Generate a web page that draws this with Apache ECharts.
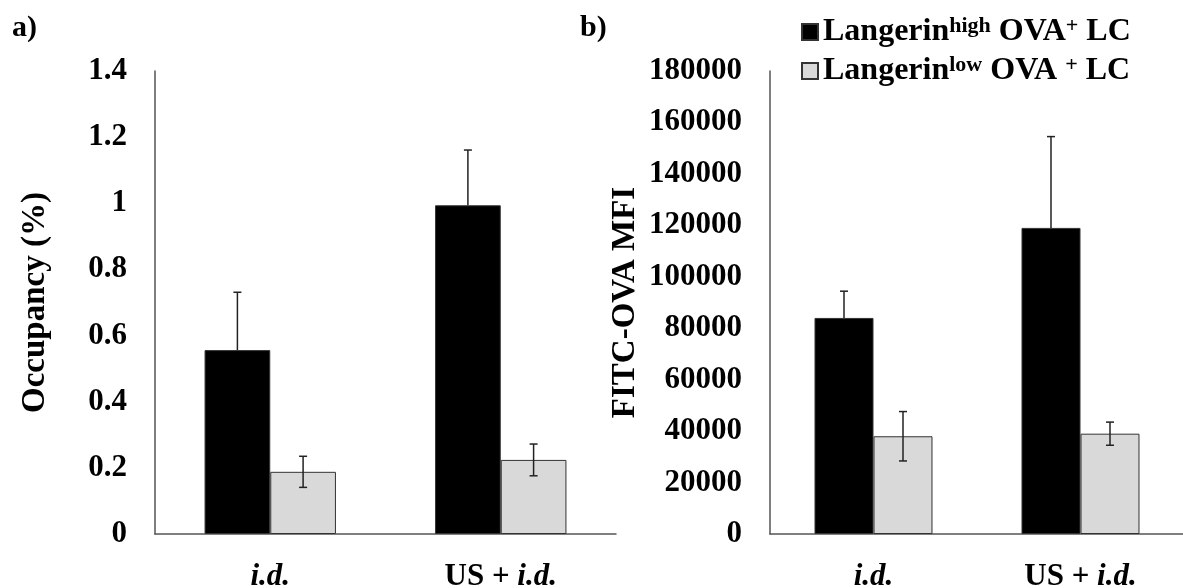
<!DOCTYPE html>
<html>
<head>
<meta charset="utf-8">
<script src="https://cdn.jsdelivr.net/npm/echarts@6/dist/echarts.min.js"></script>
<style>
  html, body { margin: 0; padding: 0; background: #fff; }
  #chart { width: 1183px; height: 588px; }
</style>
</head>
<body>
<div id="chart"></div>
<script>
// Groups on the x axis
const categories = ['i.d.', 'US + i.d.'];

// Panel a: occupancy (%)
const occHigh = [0.556, 0.994];
const occHighErr = [0.175, 0.167];
const occLow = [0.188, 0.224];
const occLowErr = [0.047, 0.048];

// Panel b: FITC-OVA MFI
const mfiHigh = [84000, 119000];
const mfiHighErr = [10400, 35500];
const mfiLow = [38000, 39000];
const mfiLowErr = [9600, 4500];

const seriesNames = ['high', 'low'];
const FONT = '"Liberation Serif", "Times New Roman", serif';
const BAR_GAP_RATIO = 0.43;

const chart = echarts.init(document.getElementById('chart'));

function catLabel(v) {
  return v === 'US + i.d.' ? '{n|US + }{i|i.d.}' : '{i|i.d.}';
}

const xRich = {
  n: { fontFamily: FONT, fontWeight: 'bold', fontSize: 31, color: '#000' },
  i: { fontFamily: FONT, fontWeight: 'bold', fontStyle: 'italic', fontSize: 31, color: '#000' }
};

function xAxisFor(gridIndex) {
  return {
    type: 'category', gridIndex, data: categories,
    axisLine: { lineStyle: { color: '#555', width: 1.5 } },
    axisTick: { show: false },
    axisLabel: { formatter: catLabel, rich: xRich, margin: 27 }
  };
}

function yAxisFor(gridIndex, max, interval, name, nameGap) {
  return {
    type: 'value', gridIndex, min: 0, max, interval,
    name, nameLocation: 'middle', nameGap, nameRotate: 90,
    nameTextStyle: { fontFamily: FONT, fontWeight: 'bold', fontSize: 33, color: '#000' },
    axisLine: { show: true, lineStyle: { color: '#555', width: 1.5 } },
    axisTick: { show: false },
    splitLine: { show: false },
    axisLabel: {
      fontFamily: FONT, fontWeight: 'bold', fontSize: 31, color: '#000', margin: 28,
      formatter: v => String(+v.toFixed(2))
    }
  };
}

// Error bars centred on each bar of a two-bar group; the dark bars get only the upper half
function errorSeries(axisIdx, values, errs, slot) {
  return {
    type: 'custom', xAxisIndex: axisIdx, yAxisIndex: axisIdx, z: 5,
    silent: true,
    data: values.map((v, i) => [i, v, errs[i]]),
    encode: { x: 0, y: 1 },
    renderItem: function (params, api) {
      const ci = api.value(0), v = api.value(1), e = api.value(2);
      const band = api.size([1, 0])[0];
      const bw = band * (1 - BAR_GAP_RATIO) / 2;
      const center = api.coord([ci, v]);
      const x = center[0] + (slot === 0 ? -bw / 2 : bw / 2);
      const top = api.coord([ci, v + e])[1];
      const bot = slot === 0 ? center[1] : api.coord([ci, v - e])[1];
      const cap = 4;
      const style = { stroke: '#222', lineWidth: 1.5 };
      const children = [
        { type: 'line', shape: { x1: x, y1: top, x2: x, y2: bot }, style },
        { type: 'line', shape: { x1: x - cap, y1: top, x2: x + cap, y2: top }, style }
      ];
      if (slot !== 0) {
        children.push({ type: 'line', shape: { x1: x - cap, y1: bot, x2: x + cap, y2: bot }, style });
      }
      return { type: 'group', children };
    }
  };
}

function barSeries(axisIdx, name, values, color) {
  return {
    type: 'bar', name, xAxisIndex: axisIdx, yAxisIndex: axisIdx,
    data: values, barGap: '0%', barCategoryGap: (BAR_GAP_RATIO * 100) + '%',
    itemStyle: { color, borderColor: '#333', borderWidth: 1 }
  };
}

const legendRich = {
  b: { fontFamily: FONT, fontWeight: 'bold', fontSize: 32, color: '#000' },
  s: { fontFamily: FONT, fontWeight: 'bold', fontSize: 22, color: '#000', padding: [0, 0, 12, 0] }
};

chart.setOption({
  animation: false,
  backgroundColor: '#fff',
  grid: [
    { left: 155, right: 567, top: 71, bottom: 54, outerBoundsMode: 'none' },
    { left: 770, right: -1, top: 71, bottom: 54, outerBoundsMode: 'none' }
  ],
  xAxis: [xAxisFor(0), xAxisFor(1)],
  yAxis: [
    yAxisFor(0, 1.4, 0.2, 'Occupancy (%)', 103),
    yAxisFor(1, 180000, 20000, 'FITC-OVA MFI', 128)
  ],
  legend: {
    orient: 'vertical', left: 796, top: 10,
    itemWidth: 16, itemHeight: 16, itemGap: 6,
    icon: 'rect',
    data: seriesNames,
    formatter: function (n) {
      return n === 'high'
        ? '{b|Langerin}{s|high}{b| OVA}{s|+}{b| LC}'
        : '{b|Langerin}{s|low}{b| OVA }{s|+}{b| LC}';
    },
    textStyle: { rich: legendRich }
  },
  graphic: [
    { type: 'text', left: 12, top: 13, style: { text: 'a)', font: 'bold 30px ' + FONT, fill: '#000' } },
    { type: 'text', left: 580, top: 13, style: { text: 'b)', font: 'bold 30px ' + FONT, fill: '#000' } }
  ],
  series: [
    barSeries(0, 'high', occHigh, '#000000'),
    barSeries(0, 'low', occLow, '#d9d9d9'),
    barSeries(1, 'high', mfiHigh, '#000000'),
    barSeries(1, 'low', mfiLow, '#d9d9d9'),
    errorSeries(0, occHigh, occHighErr, 0),
    errorSeries(0, occLow, occLowErr, 1),
    errorSeries(1, mfiHigh, mfiHighErr, 0),
    errorSeries(1, mfiLow, mfiLowErr, 1)
  ]
});
</script>
</body>
</html>
